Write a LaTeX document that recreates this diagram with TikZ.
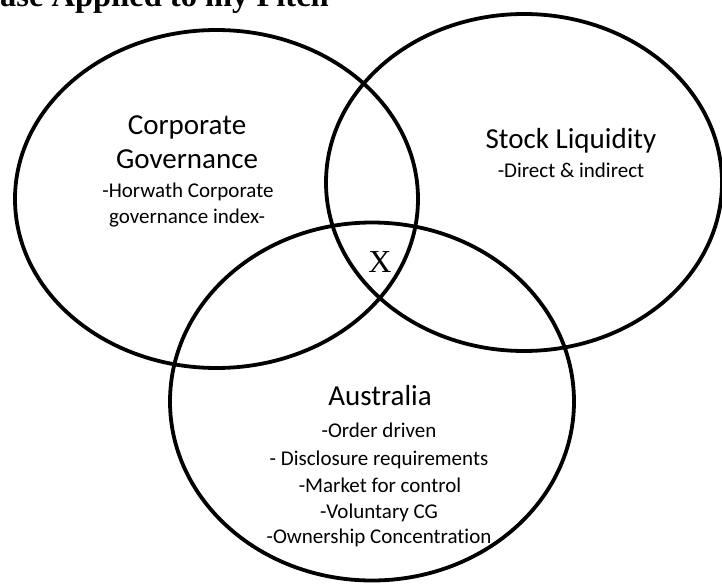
\documentclass[tikz,border=0pt]{standalone}
\usepackage{fontspec}
\setmainfont[Ligatures=CommonOff]{Carlito}
\newfontfamily\vennserif{Liberation Serif}
\usetikzlibrary{shapes.geometric}
\tikzset{
  venn/.style={ellipse, draw=black, line width=3.8pt, inner sep=0pt, outer sep=0pt},
  bigtxt/.style={anchor=base, inner sep=0pt, font=\fontsize{29}{34}\selectfont},
  smalltxt/.style={anchor=base, inner sep=0pt, font=\fontsize{21}{25}\selectfont},
}
\begin{document}
\begin{tikzpicture}[x=1pt,y=-1pt]
\useasboundingbox[fill=white] (0,0) rectangle (722,586);
% title (cut off at top, as in the reference)
\node[anchor=base west, inner sep=0pt, font=\vennserif\bfseries\fontsize{32.5}{38}\selectfont] (title) at (0,7) {ase Applied to my Pitch};
% circles
\node[venn, minimum width=403pt, minimum height=338pt] (cg) at (216.5,199) {};
\node[venn, minimum width=396pt, minimum height=337pt] (sl) at (524,182.5) {};
\node[venn, minimum width=404pt, minimum height=358pt] (au) at (372,401.5) {};
% Corporate Governance
\node[bigtxt] (cg1) at (187,134) {Corporate};
\node[bigtxt] (cg2) at (187,168) {Governance};
\node[smalltxt] (cg3) at (188,197) {-Horwath Corporate};
\node[smalltxt] (cg4) at (187,223) {governance index-};
% Stock Liquidity
\node[bigtxt] (sl1) at (571,148) {Stock Liquidity};
\node[smalltxt] (sl2) at (571,177) {-Direct \& indirect};
% Australia
\node[bigtxt] (au1) at (380,405) {Australia};
\node[smalltxt] (au2) at (379,437) {-Order driven};
\node[smalltxt] (au3) at (379,465) {- Disclosure requirements};
\node[smalltxt] (au4) at (380,492) {-Market for control};
\node[smalltxt] (au5) at (379,518) {-Voluntary CG};
\node[smalltxt] (au6) at (379,543) {-Ownership Concentration};
% X
\node[anchor=base, inner sep=0pt, font=\vennserif\fontsize{32}{38}\selectfont] (x) at (380,272) {X};
\end{tikzpicture}
\end{document}
